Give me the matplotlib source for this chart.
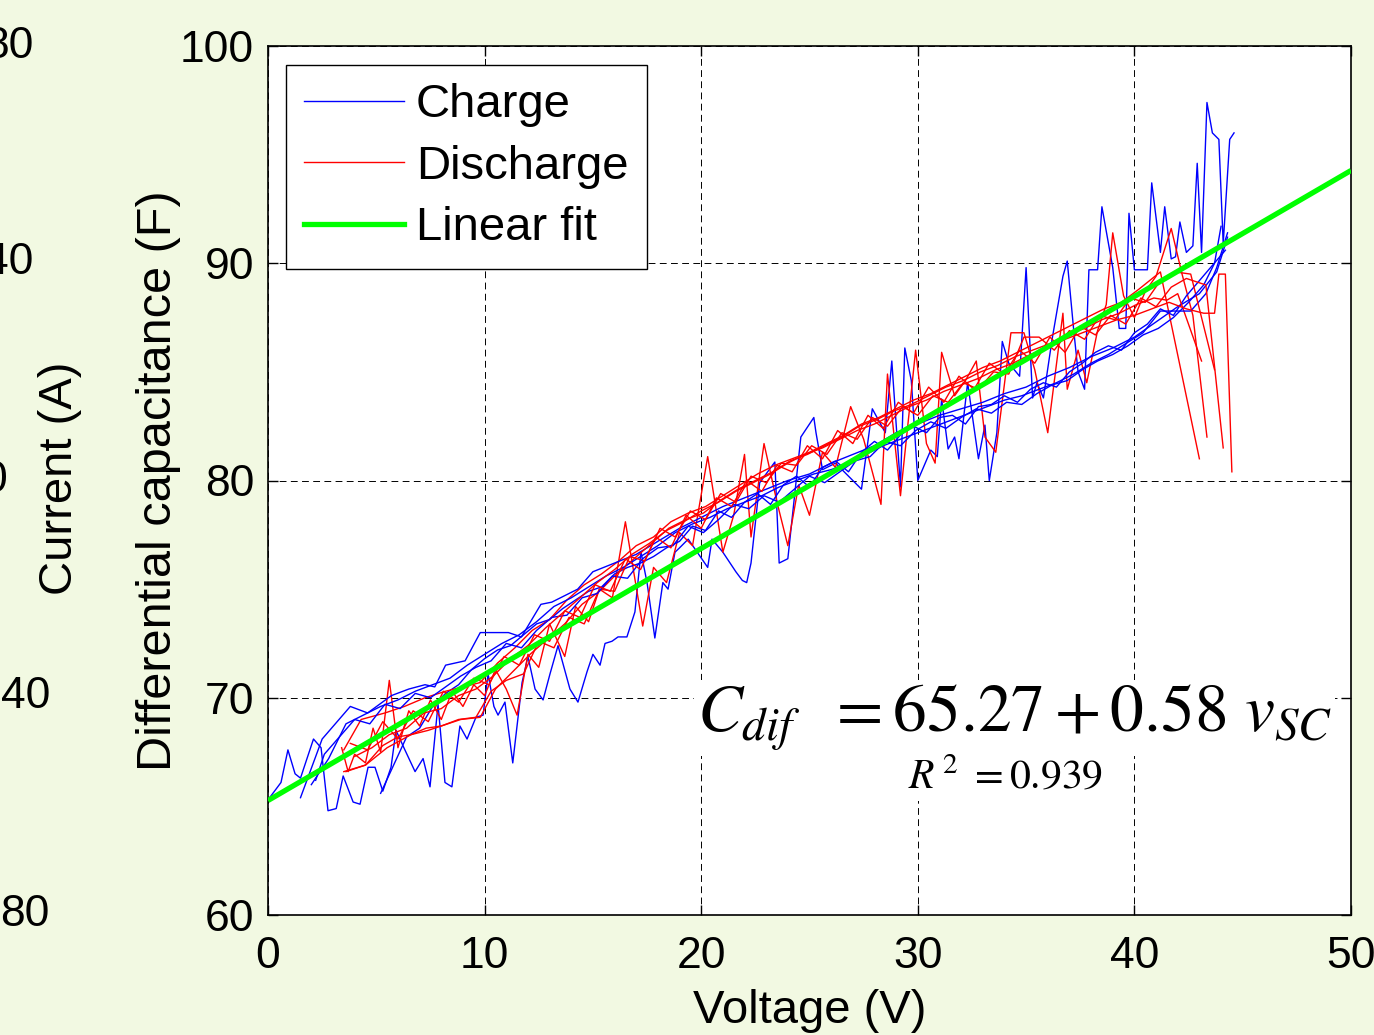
import matplotlib
matplotlib.use("Agg")
import matplotlib.pyplot as plt
from matplotlib.lines import Line2D

plt.rcParams['font.family'] = ['Liberation Sans', 'DejaVu Sans']

# ---------------- data (voltage V, capacitance F) ----------------
charge_1 = [(0, 65.3), (0.6, 66.1), (0.92, 67.6), (1.25, 66.5), (1.5, 66.3), (2.1, 68.1), (2.45, 67.7),
            (2.77, 64.8), (3.15, 64.9), (3.47, 66.4), (3.93, 65.2), (4.25, 65.1), (4.62, 66.8), (4.94, 66.8),
            (5.3, 65.7), (5.68, 66.8), (5.91, 68.5), (6.32, 67.6), (6.79, 66.6), (7.16, 67.2), (7.48, 65.9),
            (7.85, 69.7), (8.17, 66.1), (8.49, 65.9), (8.86, 68.7), (9.19, 68.1), (9.6, 69.1), (9.93, 69.2),
            (10.16, 71.1), (10.43, 69.6), (10.62, 69.2), (10.94, 69.8), (11.3, 67.0), (11.73, 70.7), (12.0, 71.9),
            (12.33, 70.4), (12.7, 69.9), (13.02, 71.1), (13.39, 72.4), (13.94, 70.4), (14.31, 69.8), (14.73, 71.2),
            (15.0, 72.0), (15.33, 71.5), (15.56, 72.5), (15.88, 72.6), (16.16, 72.8), (16.57, 72.8), (16.94, 73.95),
            (17.22, 76.7), (17.5, 75.3), (17.86, 72.75), (18.23, 75.3), (18.47, 75.0), (18.79, 76.7), (19.0, 76.9),
            (19.4, 77.3), (20.3, 76.0), (20.5, 77.3), (21.0, 76.7), (21.6, 75.8), (21.9, 75.4), (22.1, 75.3),
            (22.3, 76.2), (22.7, 79.9), (23.4, 80.85), (23.6, 76.2), (24.0, 76.4), (24.6, 82.0), (25.2, 82.9),
            (25.3, 82.2), (25.6, 80.5), (26.2, 80.8), (26.8, 80.2), (27.4, 79.6), (27.9, 83.3), (28.5, 82.2),
            (28.8, 85.5), (29.2, 79.7), (29.4, 86.1), (29.7, 84.6), (30.0, 80.0), (30.6, 81.4), (30.9, 81.1),
            (31.1, 83.75), (31.4, 81.45), (31.7, 82.0), (31.9, 81.0), (32.3, 84.5), (32.8, 81.0), (33.1, 82.55),
            (33.3, 80.0), (33.65, 82.2), (33.9, 86.4), (34.2, 85.4), (34.7, 84.8), (35.0, 89.8), (35.3, 83.8),
            (35.5, 84.5), (35.8, 83.8), (36.2, 86.5), (36.7, 89.4), (36.9, 90.1), (37.2, 86.9), (37.4, 85.0),
            (37.7, 84.2), (37.9, 89.7), (38.3, 89.7), (38.5, 92.6), (39.0, 89.8), (39.3, 87.0), (39.6, 87.0),
            (39.75, 92.3), (40.0, 89.7), (40.6, 89.7), (40.8, 93.7), (41.2, 90.5), (41.4, 92.6), (41.7, 90.2),
            (41.9, 90.3), (42.1, 91.9), (42.4, 90.5), (42.7, 90.8), (42.9, 94.6), (43.1, 90.5), (43.35, 97.4),
            (43.6, 96.0), (43.9, 95.7), (44.1, 90.9), (44.4, 95.7), (44.6, 96.0)]

charge_2 = [(5.2, 65.6), (5.8, 66.9), (6.4, 68.2), (7.0, 68.6), (7.6, 69.6), (8.2, 70.2), (8.8, 70.6),
            (9.4, 71.3), (10.0, 71.8), (10.6, 72.2), (11.2, 72.4), (11.8, 72.9), (12.4, 73.4), (13.0, 73.6),
            (13.6, 74.1), (14.2, 74.5), (14.8, 74.9), (15.4, 75.1), (16.0, 75.7), (16.6, 76.0), (17.2, 76.2),
            (17.8, 76.5), (18.4, 76.9), (19.0, 77.2), (19.6, 77.9), (20.2, 77.7), (20.8, 78.6), (21.4, 78.3),
            (22.0, 79.0), (22.6, 79.4), (23.2, 78.9), (23.8, 79.8), (24.4, 80.2), (25.0, 79.7), (25.6, 80.6),
            (26.2, 80.9), (26.8, 80.4), (27.4, 81.3), (28.0, 81.8), (28.6, 81.4), (29.2, 82.1), (29.8, 82.5),
            (30.4, 82.2), (31.0, 82.9), (31.6, 83.0), (32.2, 82.6), (32.8, 83.4), (33.4, 83.5), (34.0, 83.9),
            (34.6, 83.6), (35.2, 84.2), (35.8, 84.5), (36.4, 84.3), (37.0, 85.0), (37.6, 85.4), (38.2, 85.9),
            (38.8, 86.2), (39.4, 86.0), (40.0, 86.8), (40.6, 87.2), (41.2, 87.9), (41.8, 87.6), (42.4, 88.5),
            (43.0, 89.2), (43.6, 89.9), (44.2, 90.6)]

charge_3 = [(1.5, 65.4), (2.5, 68.1), (3.8, 69.6), (4.6, 69.3), (5.7, 70.1), (6.5, 70.4), (7.25, 70.6),
            (7.7, 70.5), (8.2, 71.5), (9.1, 71.7), (9.8, 73.0), (11.1, 73.0), (11.7, 72.8), (12.6, 74.3),
            (13.1, 74.4), (13.5, 74.6), (14.3, 75.0), (15.0, 75.8), (16.0, 76.2), (17.0, 76.6), (18.0, 77.2),
            (19.0, 77.8), (20.0, 78.3), (21.0, 78.8), (22.0, 79.2), (23.0, 79.6), (24.0, 80.0), (25.0, 80.3),
            (26.0, 80.8), (27.0, 81.2), (28.0, 81.6), (29.0, 82.2), (30.0, 82.6), (31.0, 83.0), (32.0, 83.3),
            (33.0, 83.6), (34.0, 84.0), (35.0, 84.3), (36.0, 84.8), (37.0, 85.2), (38.0, 85.7), (39.0, 86.1),
            (40.0, 86.6), (41.0, 87.3), (42.0, 88.0), (43.0, 88.6), (43.8, 89.6), (44.3, 91.2)]

charge_4 = [(2.0, 66.0), (2.8, 67.2), (3.6, 68.8), (4.4, 69.2), (5.2, 69.6), (6.0, 69.9), (6.8, 70.3),
            (7.6, 70.6), (8.4, 70.9), (9.2, 71.5), (10.0, 72.0), (10.8, 72.5), (11.6, 72.9), (12.4, 73.5),
            (13.2, 74.2), (14.0, 74.6), (14.8, 75.1), (15.6, 75.6), (16.4, 76.0), (17.2, 76.5), (18.0, 77.0),
            (18.8, 77.6), (19.6, 78.0), (20.4, 78.3), (21.2, 78.7), (22.0, 79.0), (22.8, 79.3), (23.6, 79.7),
            (24.4, 80.0), (25.2, 80.3), (26.0, 80.5), (26.8, 80.8), (27.6, 81.2), (28.4, 81.6), (29.2, 81.9),
            (30.0, 82.2), (30.8, 82.5), (31.6, 82.8), (32.4, 83.1), (33.2, 83.4), (34.0, 83.7), (34.8, 83.9),
            (35.6, 84.2), (36.4, 84.5), (37.2, 84.9), (38.0, 85.4), (38.8, 85.8), (39.6, 86.3), (40.4, 86.8),
            (41.2, 87.8), (41.7, 87.8), (42.6, 87.8), (43.3, 88.6), (43.8, 89.8), (44.3, 91.4)]

charge_5 = [(2.2, 66.2), (2.6, 67.4), (3.3, 68.2), (4.0, 69.0), (4.7, 68.8), (5.4, 69.7), (6.1, 69.5),
            (6.8, 70.2), (7.5, 70.0), (8.2, 70.5), (8.9, 71.0), (9.6, 71.4), (10.3, 71.7), (11.0, 72.5),
            (11.7, 72.3), (12.4, 73.1), (13.1, 73.7), (13.8, 73.8), (14.5, 74.6), (15.2, 74.8), (15.9, 75.6),
            (16.6, 75.5), (17.3, 76.4), (18.0, 76.9), (18.7, 77.0), (19.4, 77.9), (20.1, 77.6), (20.8, 78.2),
            (21.5, 78.9), (22.2, 78.7), (22.9, 79.3), (23.6, 79.0), (24.3, 79.6), (25.0, 80.2), (25.7, 79.9),
            (26.4, 80.4), (27.1, 80.9), (27.8, 81.1), (28.5, 81.8), (29.2, 81.6), (29.9, 82.3), (30.6, 82.7),
            (31.3, 82.4), (32.0, 82.9), (32.7, 83.3), (33.4, 83.1), (34.1, 83.6), (34.8, 83.5), (35.5, 84.0),
            (36.2, 84.4), (36.9, 84.6), (37.6, 85.1), (38.3, 85.5), (39.0, 85.8), (39.7, 86.2), (40.4, 86.7),
            (41.1, 87.0), (41.8, 87.5), (42.5, 88.2), (43.2, 89.0), (43.7, 90.0), (44.0, 91.7)]

discharge_1 = [(3.4, 67.7), (3.7, 66.6), (4.0, 67.4), (4.5, 67.0), (4.85, 68.6), (5.2, 67.5), (5.6, 70.8),
               (6.0, 67.7), (6.5, 69.4), (7.0, 68.7), (7.5, 69.9), (8.0, 69.0), (8.5, 70.3), (9.0, 69.6),
               (9.5, 70.6), (10.0, 70.1), (10.5, 71.3), (11.0, 70.4), (11.5, 69.2), (12.0, 72.0), (12.5, 71.4),
               (13.0, 73.4), (13.7, 71.9), (14.2, 74.2), (14.8, 73.5), (15.3, 75.0), (15.9, 74.6), (16.5, 78.1),
               (17.3, 73.3), (17.8, 76.0), (18.4, 75.3), (19.0, 77.6), (19.6, 77.0), (20.3, 81.1), (21.0, 76.7),
               (21.5, 78.4), (22.0, 81.2), (22.3, 77.4), (22.9, 81.7), (23.5, 79.0), (24.0, 77.0), (24.5, 79.8),
               (25.0, 78.4), (25.6, 81.3), (26.2, 80.6), (26.9, 83.4), (27.5, 81.9), (28.3, 78.9), (28.6, 84.9),
               (29.2, 79.3), (29.9, 86.0), (30.4, 81.7), (30.8, 80.8), (31.1, 85.9), (31.7, 83.9), (32.2, 84.6),
               (32.7, 85.5), (33.1, 82.0), (33.6, 81.3), (34.3, 86.8), (34.9, 86.8), (35.4, 85.1), (36.0, 82.2),
               (36.7, 87.7), (36.9, 84.2), (37.4, 86.0), (37.8, 84.5), (38.3, 86.9), (38.7, 88.1), (39.0, 91.4),
               (39.5, 88.5), (40.0, 87.5), (40.5, 88.7), (41.0, 89.4), (41.7, 91.6), (42.2, 89.5), (42.7, 87.6),
               (43.35, 82.0)]

discharge_2 = [(3.5, 67.6), (4.3, 69.0), (5.4, 69.3), (6.3, 69.6), (7.25, 70.0), (8.2, 70.3), (9.0, 70.5),
               (9.8, 70.7), (10.6, 71.6), (11.4, 72.3), (12.2, 73.1), (13.0, 73.6), (13.8, 74.5), (14.6, 75.2),
               (15.4, 75.7), (16.2, 76.3), (17.0, 77.0), (17.8, 77.4), (18.6, 78.1), (19.4, 78.5), (20.2, 78.8),
               (21.0, 79.3), (21.8, 79.8), (22.6, 80.3), (23.4, 80.7), (24.2, 81.0), (25.0, 81.3), (25.8, 81.7),
               (26.6, 82.1), (27.4, 82.6), (28.2, 82.9), (29.0, 83.3), (29.8, 83.7), (30.6, 84.0), (31.4, 84.4),
               (32.2, 84.8), (33.0, 85.2), (33.8, 85.5), (34.6, 85.9), (35.4, 86.3), (36.2, 86.7), (37.0, 87.1),
               (37.8, 87.5), (38.6, 87.9), (39.4, 88.2), (40.2, 88.8), (41.2, 89.6), (43.0, 81.0)]

discharge_3 = [(3.5, 66.6), (4.5, 66.9), (5.5, 67.7), (6.6, 68.3), (7.4, 68.5), (8.0, 68.7), (8.9, 69.0),
               (9.8, 69.1), (10.5, 70.4), (11.3, 71.2), (12.1, 72.0), (12.9, 72.7), (13.7, 73.4), (14.5, 74.3),
               (15.3, 74.9), (16.1, 75.7), (16.9, 76.4), (17.7, 77.1), (18.5, 77.8), (19.3, 78.2), (20.1, 78.5),
               (20.9, 79.1), (21.7, 79.6), (22.5, 80.0), (23.3, 80.4), (24.1, 80.9), (24.9, 81.2), (25.7, 81.6),
               (26.5, 82.0), (27.3, 82.5), (28.1, 82.8), (28.9, 83.2), (29.7, 83.5), (30.5, 83.9), (31.3, 84.3),
               (32.1, 84.6), (32.9, 85.0), (33.7, 85.3), (34.5, 85.7), (35.3, 86.0), (36.1, 86.3), (36.9, 86.7),
               (37.7, 87.0), (38.5, 87.4), (39.3, 87.7), (40.1, 88.1), (40.9, 88.4), (41.5, 88.3), (42.0, 88.6),
               (43.1, 85.5)]

discharge_4 = [(3.6, 66.6), (4.5, 66.9), (5.3, 67.8), (6.0, 68.2), (6.6, 68.3), (7.3, 68.6), (8.0, 68.7),
               (8.8, 69.0), (9.6, 69.1), (10.3, 70.3), (11.0, 70.8), (11.8, 71.1), (12.5, 72.6), (13.2, 72.3),
               (13.9, 73.7), (14.6, 73.4), (15.3, 75.0), (16.0, 74.9), (16.7, 76.5), (17.4, 76.3), (18.1, 77.8),
               (18.8, 77.4), (19.5, 78.6), (20.2, 78.2), (20.9, 79.4), (21.6, 79.0), (22.3, 80.2), (23.0, 79.9),
               (23.7, 80.8), (24.4, 80.7), (25.1, 81.6), (25.8, 81.2), (26.5, 82.2), (27.2, 81.9), (27.9, 82.9),
               (28.6, 82.5), (29.3, 83.4), (30.0, 83.0), (30.7, 83.9), (31.4, 83.6), (32.1, 84.5), (32.8, 84.2),
               (33.5, 85.0), (34.2, 84.9), (34.9, 86.6), (35.6, 86.6), (36.3, 86.0), (37.0, 86.9), (37.7, 86.5),
               (38.4, 87.6), (39.1, 87.4), (39.8, 88.4), (40.5, 88.2), (41.2, 89.2), (41.9, 89.6), (42.6, 89.5),
               (43.7, 85.1)]

discharge_5 = [(4.0, 67.3), (4.8, 67.7), (5.6, 68.3), (6.4, 68.6), (7.2, 69.3), (8.0, 69.5), (8.8, 70.1),
               (9.6, 70.4), (10.4, 71.0), (11.2, 71.8), (12.0, 72.4), (12.8, 73.2), (13.6, 73.9), (14.4, 74.6),
               (15.2, 75.3), (16.0, 75.9), (16.8, 76.6), (17.6, 77.1), (18.4, 77.7), (19.2, 78.1), (20.0, 78.6),
               (20.8, 79.0), (21.6, 79.5), (22.4, 79.9), (23.2, 80.3), (24.0, 80.8), (24.8, 81.2), (25.6, 81.5),
               (26.4, 81.9), (27.2, 82.3), (28.0, 82.6), (28.8, 83.0), (29.6, 83.4), (30.4, 83.7), (31.2, 84.1),
               (32.0, 84.4), (32.8, 84.7), (33.6, 85.1), (34.4, 85.4), (35.2, 85.8), (36.0, 86.1), (36.8, 86.5),
               (37.6, 86.8), (38.4, 87.1), (39.2, 87.4), (40.0, 87.6), (40.8, 87.9), (41.6, 88.2), (42.4, 87.9),
               (43.2, 87.7), (43.7, 87.7), (43.9, 89.5), (44.2, 89.5), (44.5, 80.4)]

discharge_6 = [(3.8, 67.9), (4.6, 67.6), (5.3, 68.9), (6.0, 68.1), (6.7, 69.4), (7.4, 68.9), (8.1, 70.3),
               (8.8, 69.8), (9.5, 70.9), (10.2, 70.6), (10.9, 71.9), (11.6, 71.5), (12.3, 72.9), (13.0, 72.6),
               (13.7, 74.0), (14.4, 73.7), (15.1, 75.2), (15.8, 74.9), (16.5, 76.4), (17.2, 75.9), (17.9, 77.4),
               (18.6, 76.9), (19.3, 78.4), (20.0, 77.8), (20.7, 79.2), (21.4, 78.8), (22.1, 80.0), (22.8, 79.5),
               (23.5, 80.7), (24.2, 80.4), (24.9, 81.6), (25.6, 81.0), (26.3, 82.3), (27.0, 81.7), (27.7, 83.0),
               (28.4, 82.4), (29.1, 83.6), (29.8, 83.1), (30.5, 84.3), (31.2, 83.6), (31.9, 84.8), (32.6, 84.2),
               (33.3, 85.4), (34.0, 84.9), (34.7, 86.0), (35.4, 85.4), (36.1, 86.6), (36.8, 85.9), (37.5, 87.1),
               (38.2, 86.7), (38.9, 87.6), (39.6, 87.2), (40.3, 88.4), (41.0, 88.0), (41.7, 88.9), (42.4, 89.3),
               (43.3, 89.0), (44.1, 81.5)]

charge_series = [charge_1, charge_2, charge_3, charge_4, charge_5]
discharge_series = [discharge_1, discharge_2, discharge_3, discharge_4, discharge_5, discharge_6]

fit_intercept = 65.27
fit_slope = 0.58
fit_range = [0, 50]
r_squared = 0.939

x_ticks = [0, 10, 20, 30, 40, 50]
y_ticks = [60, 70, 80, 90, 100]
left_ghost_labels = ["80", "40", "0", "40", "80"]

# ---------------- figure ----------------
BG = '#f2f9e2'
fig = plt.figure(figsize=(13.74, 10.35), dpi=100, facecolor=BG)
ax = fig.add_axes([268 / 1374, 1 - 915 / 1035, (1351 - 268) / 1374, (915 - 46) / 1035])
ax.set_facecolor('white')

# labels of the neighbouring (cropped) chart on the left edge
ghost_y = [46, 262, 480, 697, 915]
ghost_x = [33, 33, 7, 50, 50]
for lab, gx, gy in zip(left_ghost_labels, ghost_x, ghost_y):
    fig.text(gx / 1374, 1 - gy / 1035, lab, ha='right', va='center', fontsize=32)
fig.text(60 / 1374, 1 - 478 / 1035, 'Current (A)', rotation=90, ha='center', va='center', fontsize=34)

# data lines
n = max(len(charge_series), len(discharge_series))
for i in range(n):
    if i < len(charge_series):
        s = charge_series[i]
        ax.plot([p[0] for p in s], [p[1] for p in s], color='#0000ff', lw=1.0, zorder=3)
    if i < len(discharge_series):
        s = discharge_series[i]
        ax.plot([p[0] for p in s], [p[1] for p in s], color='#ff0000', lw=1.0, zorder=3)

fit_y = [fit_intercept + fit_slope * v for v in fit_range]
ax.plot(fit_range, fit_y, color='#00ff00', lw=3.8, zorder=5, solid_capstyle='butt')

ax.set_xlim(0, 50)
ax.set_ylim(60, 100)
ax.set_xticks(x_ticks)
ax.set_yticks(y_ticks)
ax.tick_params(axis='both', direction='in', length=7, width=1.0, top=True, right=True, labelsize=32)
ax.tick_params(axis='x', pad=15)
ax.tick_params(axis='y', pad=10)
for sp in ax.spines.values():
    sp.set_linewidth(1.2)
ax.grid(True, color='black', linestyle=(0, (7, 4.5)), linewidth=0.7)
ax.set_axisbelow(True)

ax.set_xlabel('Voltage (V)', fontsize=34, labelpad=9)
ax.set_ylabel('Differential capacitance (F)', fontsize=35, labelpad=-1)

# equation
fig.text(697 / 1374, 1 - 718 / 1035, r'$C_{dif}\ \ = 65.27 + 0.58\ v_{SC}$', ha='left', va='center',
         fontsize=48.5, math_fontfamily='stix', zorder=8,
         bbox=dict(facecolor='white', edgecolor='none', pad=2))
fig.text(1006 / 1374, 1 - 778 / 1035, r'$R^{\,2}\ = 0.939$', ha='center', va='center',
         fontsize=30, math_fontfamily='stix', zorder=8,
         bbox=dict(facecolor='white', edgecolor='none', pad=2))

handles = [Line2D([], [], color='#0000ff', lw=1.0),
           Line2D([], [], color='#ff0000', lw=1.0),
           Line2D([], [], color='#00ff00', lw=3.8)]
leg = ax.legend(handles, ['Charge', 'Discharge', 'Linear fit'], loc='upper left',
                bbox_to_anchor=((286 - 268) / 1083, (915 - 65) / 869), borderaxespad=0,
                fontsize=34, fancybox=False, framealpha=1, edgecolor='black',
                handlelength=2.1, handletextpad=0.26, labelspacing=0.37, borderpad=0.39)
leg.get_frame().set_linewidth(1.0)
leg.set_zorder(10)

fig.savefig('out.png', dpi=100, facecolor=BG)
